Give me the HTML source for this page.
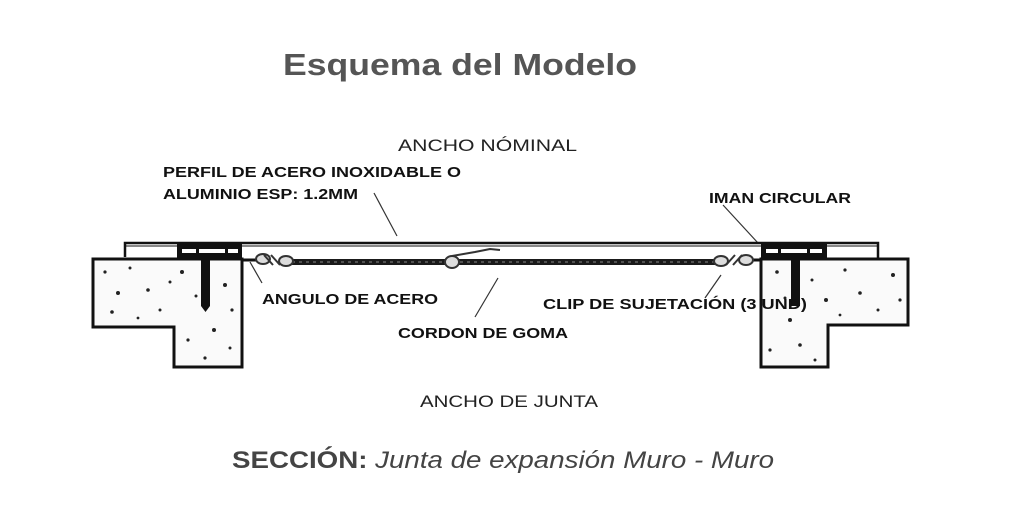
<!DOCTYPE html>
<html><head><meta charset="utf-8"><style>
html,body{margin:0;padding:0;background:#fff;}
svg{display:block;}
</style></head><body>
<svg width="1024" height="516" viewBox="0 0 1024 516" xmlns="http://www.w3.org/2000/svg">
<rect width="1024" height="516" fill="#fff"/>
<text x="283" y="75" font-family="Liberation Sans, sans-serif" font-weight="bold" font-size="31" fill="#555" textLength="354" lengthAdjust="spacingAndGlyphs">Esquema del Modelo</text>
<text x="398" y="151" font-family="Liberation Sans, sans-serif" font-size="17" fill="#222" textLength="179" lengthAdjust="spacingAndGlyphs">ANCHO NÓMINAL</text>
<!-- leader lines -->
<g stroke="#333" stroke-width="1.2" fill="none">
<line x1="374" y1="193" x2="397" y2="236"/>
<line x1="723" y1="205" x2="758" y2="243"/>
<line x1="250" y1="262" x2="262" y2="283"/>
<line x1="475" y1="317" x2="498" y2="278"/>
<line x1="705" y1="298" x2="721" y2="275"/>
</g>
<!-- plate -->
<path d="M125 257 V243 H878 V258" stroke="#111" stroke-width="2.5" fill="none"/>
<line x1="125" y1="246" x2="878" y2="246" stroke="#111" stroke-width="1"/>
<!-- magnets -->
<rect x="177" y="244" width="65" height="14" fill="#111"/>
<rect x="182" y="249" width="14" height="4" fill="#fff"/><rect x="199" y="249" width="26" height="4" fill="#fff"/><rect x="228" y="249" width="10" height="4" fill="#fff"/>
<rect x="761" y="244" width="66" height="14" fill="#111"/>
<rect x="766" y="249" width="12" height="4" fill="#fff"/><rect x="781" y="249" width="26" height="4" fill="#fff"/><rect x="810" y="249" width="12" height="4" fill="#fff"/>
<!-- concrete blocks -->
<path d="M93 259 H242 V367 H174 V327 H93 Z" fill="#fafafa" stroke="#111" stroke-width="3"/>
<path d="M761 259 H908 V325 H828 V367 H761 Z" fill="#fafafa" stroke="#111" stroke-width="3"/>
<g fill="#222">
<circle cx="105" cy="272" r="1.6"/><circle cx="118" cy="293" r="2"/><circle cx="130" cy="268" r="1.5"/><circle cx="148" cy="290" r="1.8"/><circle cx="160" cy="310" r="1.5"/><circle cx="112" cy="312" r="1.8"/><circle cx="182" cy="272" r="2"/><circle cx="196" cy="296" r="1.5"/><circle cx="225" cy="285" r="2"/><circle cx="232" cy="310" r="1.6"/><circle cx="188" cy="340" r="1.6"/><circle cx="214" cy="330" r="2"/><circle cx="205" cy="358" r="1.6"/><circle cx="230" cy="348" r="1.5"/><circle cx="138" cy="318" r="1.4"/><circle cx="170" cy="282" r="1.5"/>
<circle cx="777" cy="272" r="1.8"/><circle cx="790" cy="320" r="2"/><circle cx="812" cy="280" r="1.5"/><circle cx="826" cy="300" r="2"/><circle cx="845" cy="270" r="1.6"/><circle cx="860" cy="293" r="1.8"/><circle cx="878" cy="310" r="1.5"/><circle cx="893" cy="275" r="2"/><circle cx="770" cy="350" r="1.6"/><circle cx="800" cy="345" r="1.8"/><circle cx="815" cy="360" r="1.5"/><circle cx="785" cy="298" r="1.5"/><circle cx="900" cy="300" r="1.6"/><circle cx="840" cy="315" r="1.4"/>
</g>
<!-- bolts -->
<rect x="201" y="258" width="9" height="48" fill="#111"/><path d="M201 306 L205.5 312 L210 306 Z" fill="#111"/>
<rect x="791" y="258" width="9" height="48" fill="#111"/>
<!-- angle arms -->
<line x1="242" y1="260" x2="258" y2="260" stroke="#111" stroke-width="3"/>
<line x1="744" y1="260" x2="761" y2="260" stroke="#111" stroke-width="3"/>
<!-- cord -->
<line x1="285" y1="262" x2="722" y2="262" stroke="#1a1a1a" stroke-width="6"/>
<line x1="285" y1="262" x2="722" y2="262" stroke="#888" stroke-width="1" stroke-dasharray="3 4"/>
<!-- clips -->
<g fill="#ddd" stroke="#333" stroke-width="2">
<ellipse cx="263" cy="259" rx="7" ry="5"/><ellipse cx="286" cy="261" rx="7" ry="5"/>
<ellipse cx="721" cy="261" rx="7" ry="5"/><ellipse cx="746" cy="260" rx="7" ry="5"/>
<ellipse cx="452" cy="262" rx="7" ry="6"/>
</g>
<g fill="none" stroke="#333" stroke-width="2">
<line x1="264" y1="255" x2="273" y2="265"/><line x1="271" y1="255" x2="280" y2="265"/>
<line x1="726" y1="265" x2="735" y2="255"/><line x1="733" y1="265" x2="742" y2="255"/>
<path d="M452 256 L475 252 L490 249 L500 250"/>
</g>
<g font-family="Liberation Sans, sans-serif" font-weight="bold" font-size="15" fill="#111">
<text x="163" y="177" textLength="298" lengthAdjust="spacingAndGlyphs">PERFIL DE ACERO INOXIDABLE O</text>
<text x="163" y="199" textLength="195" lengthAdjust="spacingAndGlyphs">ALUMINIO ESP: 1.2MM</text>
<text x="709" y="203" textLength="142" lengthAdjust="spacingAndGlyphs">IMAN CIRCULAR</text>
<text x="262" y="304" textLength="176" lengthAdjust="spacingAndGlyphs">ANGULO DE ACERO</text>
<text x="398" y="338" textLength="170" lengthAdjust="spacingAndGlyphs">CORDON DE GOMA</text>
<text x="543" y="309" textLength="264" lengthAdjust="spacingAndGlyphs">CLIP DE SUJETACIÓN (3 UND)</text>
</g>
<text x="420" y="407" font-family="Liberation Sans, sans-serif" font-size="17" fill="#222" textLength="178" lengthAdjust="spacingAndGlyphs">ANCHO DE JUNTA</text>
<text x="232" y="468" font-family="Liberation Sans, sans-serif" font-size="24" fill="#444" textLength="542" lengthAdjust="spacingAndGlyphs"><tspan font-weight="bold">SECCIÓN:</tspan> <tspan font-style="italic">Junta de expansión Muro - Muro</tspan></text>
</svg>
</body></html>
